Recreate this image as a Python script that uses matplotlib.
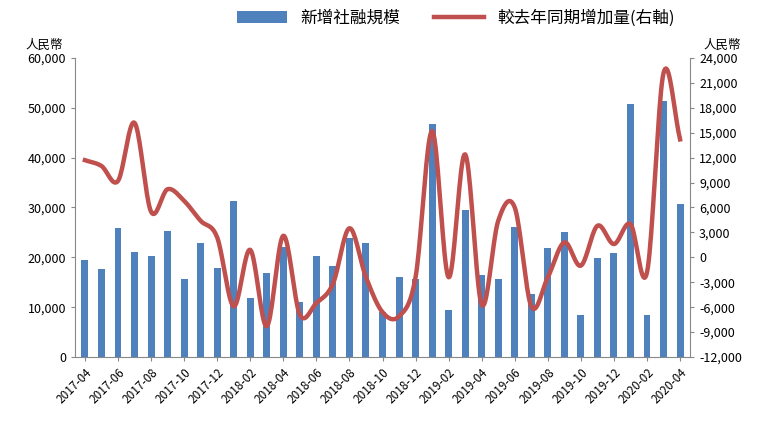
import numpy as np
import matplotlib
matplotlib.use("Agg")
import matplotlib.pyplot as plt

plt.rcParams["font.family"] = ["Noto Sans CJK TC", "DejaVu Sans"]

months = [f"{y}-{m:02d}" for y, m in
          [(2017, m) for m in range(4, 13)] + [(2018, m) for m in range(1, 13)] +
          [(2019, m) for m in range(1, 13)] + [(2020, m) for m in range(1, 5)]]
tsf = [19500, 17700, 25800, 21100, 20300, 25300, 15700, 22800, 17900, 31300,
       11900, 16900, 22100, 11100, 20200, 18200, 23900, 22900, 9000, 16000,
       15700, 46700, 9500, 29500, 16500, 15700, 26100, 12700, 21800, 25000,
       8500, 19800, 20900, 50700, 8400, 51400, 30800]
yoy = [11700, 11000, 9200, 16200, 5500, 8200, 6800, 4400, 2400, -5900,
       900, -8300, 2600, -6900, -5500, -3200, 3500, -2400, -6600, -7100,
       -2400, 15200, -2400, 12400, -5700, 4400, 6000, -5900, -2400, 1800,
       -1000, 3800, 1600, 4000, -1800, 22200, 14200]

def catmull(x, y, n=20):
    x = np.asarray(x, float); y = np.asarray(y, float)
    px = np.concatenate([[2*x[0]-x[1]], x, [2*x[-1]-x[-2]]])
    py = np.concatenate([[2*y[0]-y[1]], y, [2*y[-1]-y[-2]]])
    xs, ys = [], []
    t = np.linspace(0, 1, n, endpoint=False)
    for i in range(1, len(px)-2):
        for arr, out in ((px, xs), (py, ys)):
            p0, p1, p2, p3 = arr[i-1:i+3]
            out.extend(0.5*((2*p1) + (-p0+p2)*t + (2*p0-5*p1+4*p2-p3)*t**2 + (-p0+3*p1-3*p2+p3)*t**3))
    xs.append(x[-1]); ys.append(y[-1])
    return np.array(xs), np.array(ys)

fig = plt.figure(figsize=(7.6, 4.24), dpi=100)
ax = fig.add_axes([75/760, 1-357/424, 615/760, 299/424])
x = np.arange(len(months))
b = ax.bar(x, tsf, width=0.42, color="#4F81BD", label="新增社融規模")
ax.set_ylim(0, 60000)
ax.set_yticks(range(0, 60001, 10000))
ax.set_yticklabels([f"{v:,}" for v in range(0, 60001, 10000)], fontsize=9)
ax.set_xlim(-0.6, len(months)-0.4)
ax.set_xticks(x[::2])
ax.set_xticklabels(months[::2], rotation=45, ha="right", rotation_mode="anchor", fontsize=8.5)
ax2 = ax.twinx()
sx, sy = catmull(x, yoy)
l, = ax2.plot(sx, sy, color="#C0504D", lw=3.2, label="較去年同期增加量(右軸)")
ax2.set_ylim(-12000, 24000)
ax2.set_yticks(range(-12000, 24001, 3000))
ax2.set_yticklabels([f"{v:,}" for v in range(-12000, 24001, 3000)], fontsize=9)
for a in (ax, ax2):
    for s in a.spines.values():
        s.set_visible(False)
    a.tick_params(length=3, color="#888888")
ax.spines["bottom"].set_visible(True); ax.spines["bottom"].set_color("#888888")
ax.spines["left"].set_visible(True); ax.spines["left"].set_color("#888888")
ax2.spines["right"].set_visible(True); ax2.spines["right"].set_color("#888888")
fig.text(25/760, 1-45/424, "人民幣", fontsize=9, va="center")
fig.text(703/760, 1-45/424, "人民幣", fontsize=9, va="center")
fig.legend([b, l], ["新增社融規模", "較去年同期增加量(右軸)"], loc="center",
           bbox_to_anchor=(0.6, 1-18/424), ncol=2, frameon=False, fontsize=12,
           handlelength=3, columnspacing=2)
fig.savefig("out.png", dpi=100)
